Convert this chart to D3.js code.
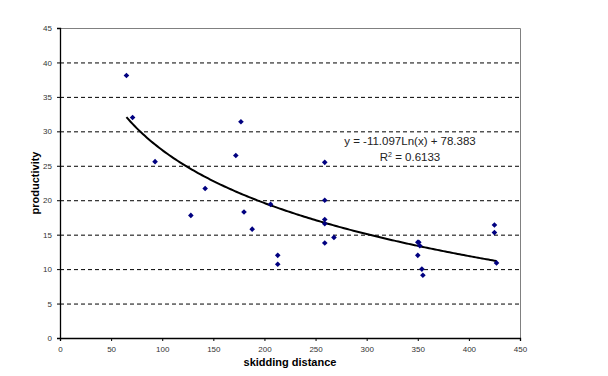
<!DOCTYPE html>
<html>
<head>
  <title>Productivity vs skidding distance</title>
  <script src="https://cdn.jsdelivr.net/npm/d3@7/dist/d3.min.js"></script>
  <style>
    body { margin: 0; background: #fff; }
    text { font-family: Arial, "Liberation Sans", sans-serif; }
  </style>
</head>
<body>
  <svg width="608" height="376" id="mainsvg"></svg>
  <script>
    const svg = d3.select('#mainsvg');
    const margin = { top: 28, right: 88, bottom: 38, left: 60 };
    const innerWidth = 608 - margin.left - margin.right;
    const innerHeight = 376 - margin.top - margin.bottom;
    const g = svg.append('g')
      .attr('transform', `translate(${margin.left}, ${margin.top})`);

    // data
    const distance = [65, 71, 93, 128, 142, 172, 177, 180, 188, 206, 213, 213,
      259, 259, 259, 259, 259, 268, 350, 351, 352, 350, 354, 355, 425, 425, 427];
    const productivity = [38.1, 32.0, 25.6, 17.8, 21.7, 26.5, 31.4, 18.3, 15.8, 19.4, 12.0, 10.7,
      25.5, 20.0, 17.2, 16.6, 13.8, 14.6, 13.9, 13.9, 13.4, 12.0, 10.0, 9.1, 16.4, 15.3, 10.9];
    const xTicks = [0, 50, 100, 150, 200, 250, 300, 350, 400, 450];
    const yTicks = [0, 5, 10, 15, 20, 25, 30, 35, 40, 45];
    const fitA = -11.097, fitB = 78.383;

    const points = distance.map((d, i) => ({ x: d, y: productivity[i] }));

    const x = d3.scaleLinear().domain([0, 450]).range([0, innerWidth]);
    const y = d3.scaleLinear().domain([0, 45]).range([innerHeight, 0]);

    // gridlines
    g.selectAll('.grid').data(yTicks.filter(t => t > 0 && t < 45)).join('line')
      .attr('x1', 0).attr('x2', innerWidth)
      .attr('y1', d => y(d) + 0.5).attr('y2', d => y(d) + 0.5)
      .attr('stroke', '#000').attr('stroke-dasharray', '4,3');

    // plot border top/right
    g.append('path')
      .attr('d', `M0,0.5H${innerWidth + 0.5}V${innerHeight}`)
      .attr('fill', 'none').attr('stroke', '#808080');

    // axes
    const xAxis = g.append('g').attr('transform', `translate(0, ${innerHeight})`)
      .call(d3.axisBottom(x).tickValues(xTicks).tickSize(3).tickPadding(5));
    const yAxis = g.append('g')
      .call(d3.axisLeft(y).tickValues(yTicks).tickSize(3).tickPadding(5));
    [xAxis, yAxis].forEach(a => {
      a.select('.domain').attr('stroke', '#000').attr('stroke-width', 1.3);
      a.selectAll('text').attr('font-size', 8).attr('fill', '#333')
        .attr('font-family', 'Arial, "Liberation Sans", sans-serif');
    });

    // trend line
    const xs = d3.range(d3.min(distance), d3.max(distance) + 1, 2);
    g.append('path')
      .datum(xs)
      .attr('fill', 'none').attr('stroke', '#000').attr('stroke-width', 2)
      .attr('d', d3.line().x(d => x(d)).y(d => y(fitA * Math.log(d) + fitB)));

    // points (small diamonds)
    g.selectAll('.pt').data(points).join('path')
      .attr('d', 'M0,-2.8L2.8,0L0,2.8L-2.8,0Z')
      .attr('transform', d => `translate(${x(d.x)}, ${y(d.y)})`)
      .attr('fill', '#000080');

    // equation
    const eq = g.append('text').attr('x', 350).attr('y', 117)
      .attr('text-anchor', 'middle').attr('font-size', 11.5).attr('fill', '#222');
    eq.text('y = -11.097Ln(x) + 78.383');
    const r2 = g.append('text').attr('x', 350).attr('y', 133)
      .attr('text-anchor', 'middle').attr('font-size', 11.5).attr('fill', '#222');
    r2.append('tspan').text('R');
    r2.append('tspan').attr('font-size', 7).attr('dy', -4).text('2');
    r2.append('tspan').attr('dy', 4).text(' = 0.6133');

    // axis titles
    svg.append('text')
      .attr('x', margin.left + innerWidth / 2).attr('y', 366)
      .attr('text-anchor', 'middle').attr('font-size', 11).attr('font-weight', 'bold')
      .text('skidding distance');
    svg.append('text')
      .attr('transform', `translate(39, ${margin.top + innerHeight / 2}) rotate(-90)`)
      .attr('text-anchor', 'middle').attr('font-size', 11).attr('font-weight', 'bold')
      .text('productivity');
  </script>
</body>
</html>
